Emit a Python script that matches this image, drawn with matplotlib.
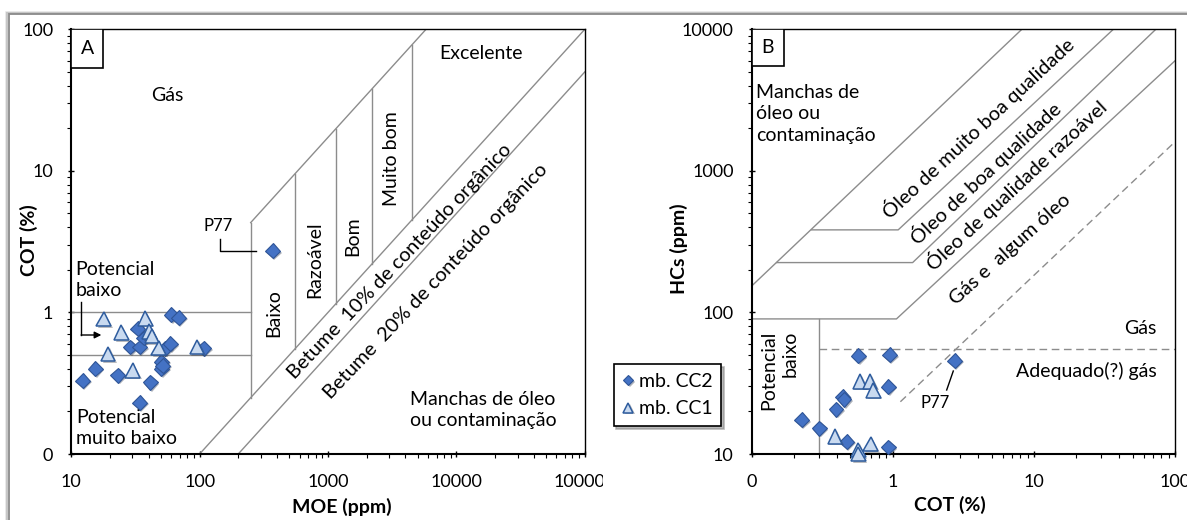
"""
Source-rock screening plots: MOE x COT (A) and COT x HCs (B)
"""

import matplotlib

matplotlib.use("Agg")
import matplotlib.pyplot as plt  # noqa:E402
from matplotlib import patheffects  # noqa:E402
from matplotlib.lines import Line2D  # noqa:E402
from matplotlib.patches import Rectangle  # noqa:E402
from matplotlib.ticker import FixedLocator, FixedFormatter, LogLocator, NullFormatter  # noqa:E402

plt.rcParams["font.family"] = ["Lato", "DejaVu Sans"]

# panel A: MOE (ppm) x COT (%)
a_cc2_moe = [12.3, 15.4, 23.1, 34.1, 41.3, 28.8, 33.1, 34.1, 36.7, 50.4, 50.4, 51.5, 54.0, 59.2, 60.2, 68.8, 107.6, 371]
a_cc2_cot = [0.33, 0.40, 0.36, 0.23, 0.32, 0.57, 0.77, 0.57, 0.66, 0.45, 0.40, 0.42, 0.56, 0.60, 0.96, 0.92, 0.56, 2.72]
a_cc1_moe = [17.9, 19.4, 24.6, 30.1, 37.8, 40.6, 42.6, 48.0, 95.5]
a_cc1_cot = [0.90, 0.51, 0.72, 0.39, 0.91, 0.73, 0.68, 0.56, 0.57]

# panel B: COT (%) x HCs (ppm)
b_cc2_cot = [0.226, 0.30, 0.395, 0.44, 0.45, 0.471, 0.569, 0.949, 0.927, 0.927, 2.74]
b_cc2_hcs = [17.4, 15.2, 20.7, 25.4, 24.3, 12.2, 49.3, 50.1, 29.9, 11.2, 45.7]
b_cc1_cot = [0.389, 0.569, 0.569, 0.697, 0.585, 0.689, 0.727]
b_cc1_hcs = [13.3, 10.7, 10.0, 11.8, 32.5, 32.5, 28.1]

series_labels = ["mb. CC2", "mb. CC1"]

# panel A class boundaries (COT = MOE / ratio)
a_ratio_top = 58
a_ratio_10 = 1000
a_ratio_20 = 2000
a_class_moe = [250, 550, 1150, 2200, 4500]
a_potential_cot = [1.0, 0.5]

# panel B class boundaries, as polylines (COT, HCs)
b_bounds = [
    ([0.1, 8.2], [154, 10000]),
    ([0.265, 1.09, 36.5], [383, 383, 10000]),
    ([0.15, 1.38, 73], [225, 225, 10000]),
    ([0.1, 1.06, 100], [90, 90, 6000]),
    ([0.3, 0.3], [10, 90]),
]
b_dashed = [
    ([0.3, 100], [55, 55]),
    ([1.13, 100], [23.4, 1607]),
]

LINE = "#8c8c8c"
shadow = [patheffects.SimplePatchShadow(offset=(1.2, -1.2), alpha=0.35), patheffects.Normal()]
cc2_style = dict(marker="D", ms=7.6, mfc="#4472C4", mec="#2F5597", mew=0.8, ls="none",
                 clip_on=False, zorder=4, path_effects=shadow)
cc1_style = dict(marker="^", ms=10.5, mfc="#C9DAF0", mec="#2E5C9E", mew=1.1, ls="none",
                 clip_on=False, zorder=5, path_effects=shadow)


def style_axes(ax, xlim, ylim, xticks, xlabels, yticks, ylabels):
    ax.set_xscale("log")
    ax.set_yscale("log")
    ax.set_xlim(*xlim)
    ax.set_ylim(*ylim)
    ax.xaxis.set_major_locator(FixedLocator(xticks))
    ax.xaxis.set_major_formatter(FixedFormatter(xlabels))
    ax.yaxis.set_major_locator(FixedLocator(yticks))
    ax.yaxis.set_major_formatter(FixedFormatter(ylabels))
    for axis in (ax.xaxis, ax.yaxis):
        axis.set_minor_locator(LogLocator(base=10, subs=range(2, 10), numticks=20))
        axis.set_minor_formatter(NullFormatter())
    ax.tick_params(which="major", direction="inout", length=5, width=1.0, labelsize=13)
    ax.tick_params(which="minor", direction="out", length=3, width=0.8)
    ax.tick_params(axis="x", which="major", pad=12)
    ax.tick_params(axis="y", which="major", pad=10.5)
    for side in ("left", "bottom"):
        ax.spines[side].set_linewidth(1.5)
    for side in ("top", "right"):
        ax.spines[side].set_linewidth(1.0)


def note(ax, x, y, s, size=14, **kw):
    kw.setdefault("ha", "center")
    kw.setdefault("va", "center")
    ax.text(x, y, s, transform=ax.transAxes, fontsize=size, rotation_mode="anchor",
            linespacing=1.3, **kw)


def corner_box(ax, letter, w, h):
    ax.add_patch(Rectangle((0, 1 - h), w, h, transform=ax.transAxes, fc="white",
                           ec="black", lw=1.2, zorder=6))
    ax.text(w / 2, 1 - h / 2, letter, transform=ax.transAxes, fontsize=14,
            ha="center", va="center", zorder=7)


def draw_frame(fig):
    # soft gray edge along the top and left of the figure
    w, h = fig.get_size_inches() * fig.dpi
    x0 = 8.5 / w
    y0 = 1 - 14 / h
    for off, color, lw in [(2.2, "#ececec", 2.0), (1.2, "#c6c6c6", 1.6), (0, "#8a8a8a", 1.3)]:
        fig.add_artist(Line2D([x0 - off / w, x0 - off / w, 1], [0, y0 + off / h, y0 + off / h],
                              transform=fig.transFigure, color=color, lw=lw,
                              solid_joinstyle="miter"))


def panel_a(ax):
    style_axes(ax, (10, 1e5), (0.1, 100),
               [10, 100, 1000, 10000, 100000], ["10", "100", "1000", "10000", "100000"],
               [0.1, 1, 10, 100], ["0", "1", "10", "100"])

    moe = [a_class_moe[0], 1e5]
    ax.plot(moe, [m / a_ratio_top for m in moe], color=LINE, lw=1.0)
    full = [10, 1e5]
    ax.plot(full, [m / a_ratio_10 for m in full], color=LINE, lw=1.0)
    ax.plot(full, [m / a_ratio_20 for m in full], color=LINE, lw=1.0)
    for m in a_class_moe:
        ax.plot([m, m], [m / a_ratio_10, m / a_ratio_top], color=LINE, lw=1.0)
    for c in a_potential_cot:
        ax.plot([10, a_class_moe[0]], [c, c], color=LINE, lw=1.0)

    ax.plot(a_cc2_moe, a_cc2_cot, **cc2_style)
    ax.plot(a_cc1_moe, a_cc1_cot, **cc1_style)

    corner_box(ax, "A", 0.0623, 0.0904)
    note(ax, 0.187, 0.844, "Gás")
    note(ax, 0.797, 0.942, "Excelente")
    note(ax, 0.624, 0.696, "Muito bom", rotation=90)
    note(ax, 0.549, 0.512, "Bom", rotation=90)
    note(ax, 0.475, 0.457, "Razoável", rotation=90)
    note(ax, 0.394, 0.331, "Baixo", rotation=90)
    note(ax, 0.640, 0.453, "Betume  10% de conteúdo orgânico", size=14.5, rotation=46.5)
    note(ax, 0.710, 0.406, "Betume  20% de conteúdo orgânico", size=14.5, rotation=46.5)
    note(ax, 0.659, 0.104, "Manchas de óleo\nou contaminação", ha="left")
    note(ax, 0.008, 0.410, "Potencial\nbaixo", ha="left")
    note(ax, 0.010, 0.061, "Potencial\nmuito baixo", ha="left")
    note(ax, 0.286, 0.537, "P77", size=12)
    ax.plot([0.2897, 0.2897, 0.3598], [0.5062, 0.478, 0.478], transform=ax.transAxes,
            color="black", lw=1.0)
    ax.plot([0.0193, 0.0193], [0.3586, 0.2802], transform=ax.transAxes, color="black", lw=1.0)
    ax.annotate("", xy=(0.0587, 0.2802), xytext=(0.0193, 0.2802), xycoords="axes fraction",
                arrowprops=dict(arrowstyle="-|>", color="black", lw=1.0, shrinkA=0, shrinkB=0,
                                mutation_scale=10))

    ax.set_xlabel("MOE (ppm)", fontsize=14, fontweight="bold", va="center")
    ax.set_ylabel("COT (%)", fontsize=14, fontweight="bold", va="center")
    ax.xaxis.set_label_coords(0.527, -0.124)
    ax.yaxis.set_label_coords(-0.083, 0.504)


def panel_b(ax, fig):
    style_axes(ax, (0.1, 100), (10, 10000),
               [0.1, 1, 10, 100], ["0", "1", "10", "100"],
               [10, 100, 1000, 10000], ["10", "100", "1000", "10000"])

    for xs, ys in b_bounds:
        ax.plot(xs, ys, color=LINE, lw=1.0)
    for xs, ys in b_dashed:
        ax.plot(xs, ys, color=LINE, lw=1.0, dashes=(5.5, 3.3))

    h_cc2, = ax.plot(b_cc2_cot, b_cc2_hcs, **cc2_style)
    h_cc1, = ax.plot(b_cc1_cot, b_cc1_hcs, **cc1_style)

    corner_box(ax, "B", 0.0763, 0.0857)
    note(ax, 0.0106, 0.801, "Manchas de\nóleo ou\ncontaminação", ha="left")
    note(ax, 0.535, 0.769, "Óleo de muito boa qualidade", size=14.5, rotation=43)
    note(ax, 0.551, 0.661, "Óleo de boa qualidade", size=14.5, rotation=43)
    note(ax, 0.625, 0.633, "Óleo de qualidade razoável", size=14.5, rotation=43)
    note(ax, 0.611, 0.482, "Gás e  algum óleo", size=14.5, rotation=42)
    note(ax, 0.9555, 0.296, "Gás", ha="right")
    note(ax, 0.9555, 0.195, "Adequado(?) gás", ha="right")
    note(ax, 0.0652, 0.198, "Potencial\nbaixo", rotation=90, multialignment="right")
    note(ax, 0.4328, 0.120, "P77", size=12)
    ax.plot([0.476, 0.4604], [0.1954, 0.1507], transform=ax.transAxes, color="black", lw=1.0)

    ax.set_xlabel("COT (%)", fontsize=14, fontweight="bold", va="center")
    ax.set_ylabel("HCs (ppm)", fontsize=14, fontweight="bold", va="center")
    ax.xaxis.set_label_coords(0.4675, -0.120)
    ax.yaxis.set_label_coords(-0.1727, 0.484)

    leg = ax.legend([h_cc2, h_cc1], series_labels, loc="upper left",
                    bbox_to_anchor=(613.6 / 1187, 1 - 364 / 520), bbox_transform=fig.transFigure,
                    borderaxespad=0, frameon=True, fancybox=False, edgecolor="black",
                    framealpha=1, markerscale=0.7, handlelength=0.6, handletextpad=0.25,
                    borderpad=0.45, labelspacing=0.55, fontsize=14,
                    shadow={"color": "0.55", "alpha": 0.6})
    leg.get_frame().set_linewidth(1.2)


def main():
    fig = plt.figure(figsize=(11.87, 5.2), dpi=100)
    ax_a = fig.add_axes([0.05998, 0.12692, 0.43269, 0.81673])
    ax_b = fig.add_axes([0.63336, 0.12692, 0.35661, 0.81673])

    panel_a(ax_a)
    panel_b(ax_b, fig)

    # the last MOE tick label is cut at the edge of its chart area
    fig.add_artist(Rectangle((603 / 1187, 20 / 520), 14 / 1187, 40 / 520,
                             transform=fig.transFigure, fc="white", ec="none", zorder=3))
    draw_frame(fig)

    fig.savefig("out.png", dpi=100)
    plt.close(fig)


if __name__ == "__main__":
    main()
